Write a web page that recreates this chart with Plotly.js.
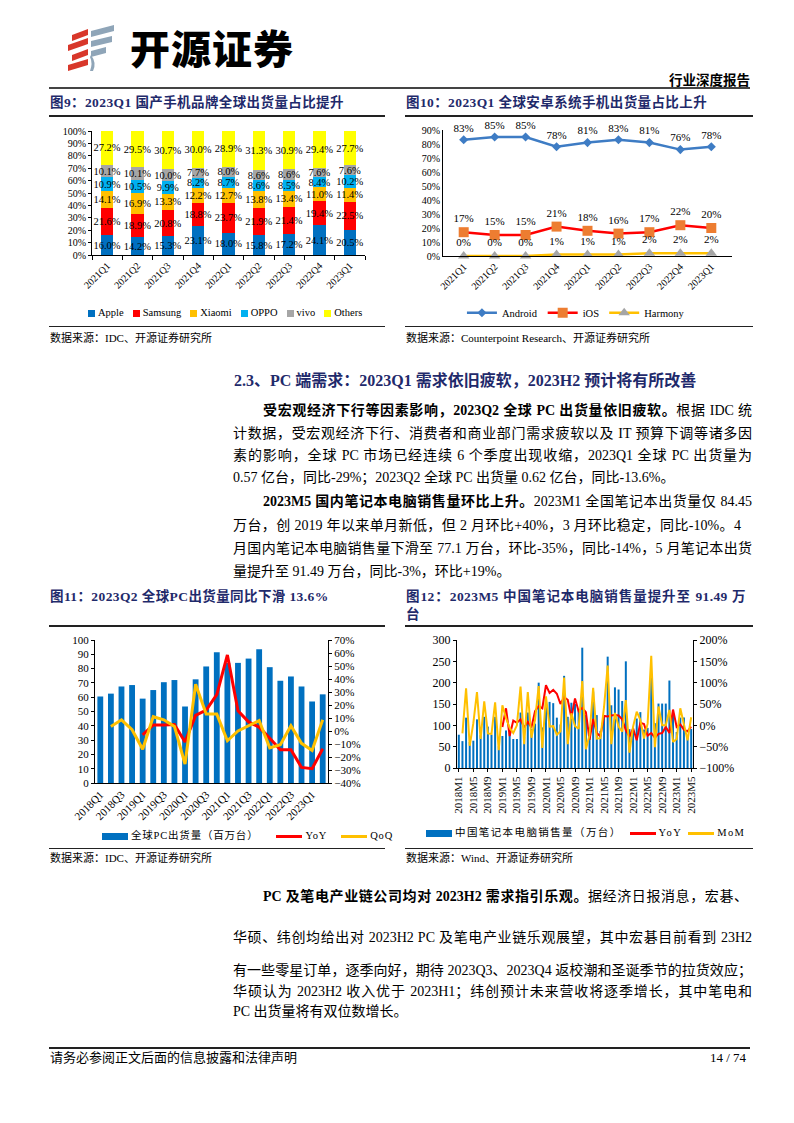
<!DOCTYPE html>
<html>
<head>
<meta charset="utf-8">
<script src="https://cdn.plot.ly/plotly-3.0.1.min.js"></script>
<style>
  body { margin: 0; background: #fff; }
  #page { position: relative; width: 794px; height: 1123px; overflow: hidden;
          font-family: "Liberation Serif", "Noto Sans CJK SC", serif; color: #000; }
  .abs { position: absolute; white-space: nowrap; }
  .rule { position: absolute; background: #222; }
  .fig { font-weight: bold; font-size: 13.5px; color: #1F2A6B; line-height: 18px; letter-spacing: 0.4px; }
  .src { font-size: 11px; line-height: 14px; }
  .ln { position: absolute; left: 233px; width: 519px; font-size: 14px; line-height: 16px;
        text-align: justify; text-align-last: justify; white-space: nowrap; }
  .ln.last { text-align-last: left; }
  .ln.ind { padding-left: 30px; width: 489px; }
  b { font-weight: bold; }
  .chart { position: absolute; }
  .legend { position: absolute; display: flex; align-items: center; font-size: 10.5px; line-height: 12px; white-space: nowrap; }
  .legend .it { display: flex; align-items: center; }
  .legend .sw { display: inline-block; }
</style>
</head>
<body>
<div id="page">
  <!-- header -->
  <svg class="abs" style="left:66px;top:25px" width="52" height="47" viewBox="0 0 52 47">
    <g fill="#D8372A">
      <polygon points="6,10 22,4 22,10 6,16"/>
      <polygon points="2,20 22,13 22,19 2,26"/>
      <polygon points="6,30 22,24 22,30 6,36"/>
      <polygon points="2,40 22,34 22,40 2,46"/>
    </g>
    <g fill="#8FA5B8">
      <polygon points="25,6 48,0 48,6 25,12"/>
      <polygon points="25,16 46,11 46,17 25,22"/>
      <polygon points="25,26 40,22 40,28 25,32"/>
      <path d="M25,30 Q31,38 27,46 L24,46 Q27,38 24,32 Z"/>
    </g>
  </svg>
  <div class="abs" style="left:130px;top:22px;font-family:'Noto Sans CJK SC';font-weight:900;font-size:40px;line-height:50px;letter-spacing:1px;">开源证券</div>
  <div class="abs" style="right:44px;top:73px;font-weight:bold;font-size:13.5px;line-height:16px;">行业深度报告</div>
  <div class="rule" style="left:49px;top:87px;width:701px;height:2px;background:#444"></div>

  <!-- figure titles row 1 -->
  <div class="abs fig" style="left:50px;top:94px;">图9：2023Q1 国产手机品牌全球出货量占比提升</div>
  <div class="abs fig" style="left:406px;top:94px;">图10：2023Q1 全球安卓系统手机出货量占比上升</div>
  <div class="rule" style="left:49px;top:115px;width:336px;height:1.5px"></div>
  <div class="rule" style="left:405px;top:115px;width:348px;height:1.5px"></div>

  <div id="c1" class="chart" style="left:50px;top:118px;width:335px;height:208px"></div>
  <div id="c2" class="chart" style="left:405px;top:118px;width:350px;height:208px"></div>
  <div id="lg1" class="legend" style="left:88px;top:307px;gap:9px"></div>

  <div class="rule" style="left:49px;top:326px;width:336px;height:1px"></div>
  <div class="rule" style="left:405px;top:326px;width:348px;height:1px"></div>
  <div class="abs src" style="left:50px;top:331px;">数据来源：IDC、开源证券研究所</div>
  <div class="abs src" style="left:406px;top:331px;">数据来源：Counterpoint Research、开源证券研究所</div>

  <!-- section text -->
  <div class="abs" style="left:234px;top:371px;font-weight:bold;font-size:16px;line-height:20px;color:#1F2A6B;">2.3、PC 端需求：2023Q1 需求依旧疲软，2023H2 预计将有所改善</div>

  <div class="ln ind" style="top:403px"><b>受宏观经济下行等因素影响，2023Q2 全球 PC 出货量依旧疲软。</b>根据 IDC 统</div>
  <div class="ln" style="top:426px">计数据，受宏观经济下行、消费者和商业部门需求疲软以及 IT 预算下调等诸多因</div>
  <div class="ln" style="top:448px">素的影响，全球 PC 市场已经连续 6 个季度出现收缩，2023Q1 全球 PC 出货量为</div>
  <div class="ln last" style="top:470px">0.57 亿台，同比-29%；2023Q2 全球 PC 出货量 0.62 亿台，同比-13.6%。</div>

  <div class="ln ind" style="top:494px"><b>2023M5 国内笔记本电脑销售量环比上升。</b>2023M1 全国笔记本出货量仅 84.45</div>
  <div class="ln" style="top:518px;width:508px">万台，创 2019 年以来单月新低，但 2 月环比+40%，3 月环比稳定，同比-10%。4</div>
  <div class="ln" style="top:541px">月国内笔记本电脑销售量下滑至 77.1 万台，环比-35%，同比-14%，5 月笔记本出货</div>
  <div class="ln last" style="top:564px">量提升至 91.49 万台，同比-3%，环比+19%。</div>

  <!-- figure titles row 2 -->
  <div class="abs fig" style="left:50px;top:588px;">图11：2023Q2 全球PC出货量同比下滑 13.6%</div>
  <div class="abs fig" style="left:406px;top:588px;width:340px;text-align:justify;text-align-last:justify;">图12：2023M5 中国笔记本电脑销售量提升至 91.49 万</div>
  <div class="abs fig" style="left:406px;top:606px;">台</div>
  <div class="rule" style="left:49px;top:625px;width:336px;height:1.5px"></div>
  <div class="rule" style="left:405px;top:625px;width:348px;height:1.5px"></div>

  <div id="c3" class="chart" style="left:50px;top:628px;width:335px;height:220px"></div>
  <div id="c4" class="chart" style="left:405px;top:628px;width:350px;height:220px"></div>
  <div id="lg3" class="legend" style="left:102px;top:830px;"></div>
  <div id="lg4" class="legend" style="left:426px;top:827px;"></div>

  <div class="rule" style="left:49px;top:848px;width:336px;height:1px"></div>
  <div class="rule" style="left:405px;top:848px;width:348px;height:1px"></div>
  <div class="abs src" style="left:50px;top:851px;">数据来源：IDC、开源证券研究所</div>
  <div class="abs src" style="left:406px;top:851px;">数据来源：Wind、开源证券研究所</div>

  <div class="ln ind" style="top:889px;width:485px"><b>PC 及笔电产业链公司均对 2023H2 需求指引乐观。</b>据经济日报消息，宏碁、</div>
  <div class="ln" style="top:930px">华硕、纬创均给出对 2023H2 PC 及笔电产业链乐观展望，其中宏碁目前看到 23H2</div>
  <div class="ln" style="top:963px">有一些零星订单，逐季向好，期待 2023Q3、2023Q4 返校潮和圣诞季节的拉货效应；</div>
  <div class="ln" style="top:984px">华硕认为 2023H2 收入优于 2023H1；纬创预计未来营收将逐季增长，其中笔电和</div>
  <div class="ln last" style="top:1004px">PC 出货量将有双位数增长。</div>

  <!-- footer -->
  <div class="rule" style="left:49px;top:1047px;width:701px;height:1.5px"></div>
  <div class="abs" style="left:50px;top:1050px;font-size:13px;line-height:16px;">请务必参阅正文后面的信息披露和法律声明</div>
  <div class="abs" style="right:48px;top:1050px;font-size:13px;line-height:16px;">14 / 74</div>
</div>

<script>
// ---- 图9 data ----
var quarters = ['2021Q1', '2021Q2', '2021Q3', '2021Q4', '2022Q1', '2022Q2', '2022Q3', '2022Q4', '2023Q1'];
var apple   = [16.0, 14.2, 15.3, 23.1, 18.0, 15.8, 17.2, 24.1, 20.5];
var samsung = [21.6, 18.9, 20.8, 18.8, 23.7, 21.9, 21.4, 19.4, 22.5];
var xiaomi  = [14.1, 16.9, 13.3, 12.2, 12.7, 13.8, 13.4, 11.0, 11.4];
var oppo    = [10.9, 10.5, 9.9, 8.2, 8.7, 8.6, 8.5, 8.4, 10.2];
var vivo    = [10.1, 10.1, 10.0, 7.7, 8.0, 8.6, 8.6, 7.6, 7.6];
var others  = [27.2, 29.5, 30.7, 30.0, 28.9, 31.3, 30.9, 29.4, 27.7];

// ---- 图10 data ----
var android = [83, 85, 85, 78, 81, 83, 81, 76, 78];
var ios     = [17, 15, 15, 21, 18, 16, 17, 22, 20];
var harmony = [0, 0, 0, 1, 1, 1, 2, 2, 2];

// ---- 图11 data ----
var pcQuarters = ['2018Q1', '2018Q2', '2018Q3', '2018Q4', '2019Q1', '2019Q2', '2019Q3', '2019Q4',
                  '2020Q1', '2020Q2', '2020Q3', '2020Q4', '2021Q1', '2021Q2', '2021Q3', '2021Q4',
                  '2022Q1', '2022Q2', '2022Q3', '2022Q4', '2023Q1', '2023Q2'];
var pcShip = [60.5, 62.5, 67.5, 68.5, 59, 65, 70.5, 72, 53.5, 72.5, 81.5, 91.5,
              84, 84, 87, 93.5, 81, 71.5, 74.5, 67.5, 57, 62];
var pcYoY = [null, null, null, null, -3, 4.7, 4.7, 5, -8.5, 12, 16, 28,
             58.5, 15.5, 7, 3, -5.5, -14.5, -14.5, -28, -29, -13.6];
var pcQoQ = [null, 3.5, 8.6, 1, -14, 11, 8.6, 3.5, -25.5, 36, 13, 13,
             -7.5, 0, 4, 8, -13, -10.5, 4, -9.5, -15, 8.6];

// ---- 图12 data ----
var months = ['2018M1','2018M2','2018M3','2018M4','2018M5','2018M6','2018M7','2018M8','2018M9','2018M10','2018M11','2018M12',
              '2019M1','2019M2','2019M3','2019M4','2019M5','2019M6','2019M7','2019M8','2019M9','2019M10','2019M11','2019M12',
              '2020M1','2020M2','2020M3','2020M4','2020M5','2020M6','2020M7','2020M8','2020M9','2020M10','2020M11','2020M12',
              '2021M1','2021M2','2021M3','2021M4','2021M5','2021M6','2021M7','2021M8','2021M9','2021M10','2021M11','2021M12',
              '2022M1','2022M2','2022M3','2022M4','2022M5','2022M6','2022M7','2022M8','2022M9','2022M10','2022M11','2022M12',
              '2023M1','2023M2','2023M3','2023M4','2023M5'];
var nbSales = [78, 63, 118, 61, 64, 114, 77, 120, 97, 78, 120, 51,
               75, 88, 83, 68, 68, 130, 73, 130, 92, 104, 200, 95,
               160, 155, 152, 118, 102, 216, 120, 153, 150, 138, 282, 124,
               95, 179, 124, 87, 124, 261, 147, 189, 184, 157, 250, 91,
               88, 116, 131, 90, 94, 215, 105, 151, 151, 151, 205, 125,
               84.45, 118.2, 118.4, 77.1, 91.49];
var nbYoY = [null, null, null, null, null, null, null, null, null, null, null, null,
             -4, 40, -25, 11, 6, 14, -5, 8, -5, 33, 45, 40,
             94, 76, 83, 74, 50, 66, 60, 18, 63, 33, 41, 31,
             -34, 15, -18, -26, 22, 21, 23, 24, 23, 14, -11, -27,
             -7, -35, 6, 3, -24, -18, -29, -20, -18, -4, -18, 37,
             -4, 2, -10, -14, -3];
var nbMoM = [null, -19, 87, -48, 5, 78, -32, 56, -19, -20, 54, -58,
             47, 17, -6, -18, 0, 91, -44, 78, -29, 13, 92, -53,
             68, -3, -2, -22, -14, 112, -44, 28, -2, -8, 104, -56,
             -23, 88, -31, -30, 43, 140, -44, 29, -3, -15, 59, -64,
             -3, 32, 13, -31, 4, 163, -51, 44, 0, 0, 36, -39,
             -32, 40, 0, -35, 19];

var FONT = 'Liberation Serif, Noto Sans CJK SC, serif';
var config = { staticPlot: true, displayModeBar: false };

function baseAxis(extra) {
    var ax = { showgrid: false, zeroline: false, showline: true, linecolor: '#000', linewidth: 1,
               ticks: 'outside', ticklen: 3, tickcolor: '#000', tickfont: { family: FONT, size: 10, color: '#000' } };
    for (var k in extra) ax[k] = extra[k];
    return ax;
}

// simple html legend: kind 'box' or 'line'
function drawLegend(id, items, opts) {
    var box = document.getElementById(id);
    items.forEach(function (it, i) {
        var el = document.createElement('span');
        el.className = 'it';
        if (opts.gaps) el.style.marginLeft = (i === 0 ? 0 : opts.gaps[i - 1]) + 'px';
        var sw = document.createElement('span');
        sw.className = 'sw';
        sw.style.background = it.color;
        sw.style.width = (it.kind === 'line' ? opts.lineW : opts.boxW) + 'px';
        sw.style.height = (it.kind === 'line' ? 3 : opts.boxH) + 'px';
        sw.style.marginRight = '3px';
        var tx = document.createElement('span');
        tx.textContent = it.name;
        if (opts.spacing) tx.style.letterSpacing = opts.spacing + 'px';
        el.appendChild(sw); el.appendChild(tx);
        box.appendChild(el);
    });
}

// 图9: stacked bars
var brands = [
    { name: 'Apple', y: apple, color: '#0070C0' },
    { name: 'Samsung', y: samsung, color: '#FF0000' },
    { name: 'Xiaomi', y: xiaomi, color: '#FFC000' },
    { name: 'OPPO', y: oppo, color: '#00B0F0' },
    { name: 'vivo', y: vivo, color: '#A6A6A6' },
    { name: 'Others', y: others, color: '#FFFF00' }
];
var c1Traces = brands.map(function (b) {
    return {
        type: 'bar', x: quarters, y: b.y, name: b.name,
        marker: { color: b.color },
        text: b.y.map(function (v) { return v.toFixed(1) + '%'; }),
        textposition: 'inside', insidetextanchor: 'middle', constraintext: 'none', textangle: 0,
        textfont: { family: FONT, size: 10.5, color: '#000' }
    };
});
Plotly.newPlot('c1', c1Traces, {
    barmode: 'stack', bargap: 0.6, showlegend: false,
    margin: { l: 42, r: 20, t: 13, b: 71, autoexpand: false },
    paper_bgcolor: '#fff', plot_bgcolor: '#fff',
    font: { family: FONT, size: 10, color: '#000' },
    xaxis: baseAxis({ type: 'category', tickangle: -45, tickson: 'boundaries', ticklen: 4 }),
    yaxis: baseAxis({ range: [0, 100], dtick: 10, ticksuffix: '%' })
}, config);
drawLegend('lg1', brands.map(function (b) { return { name: b.name, color: b.color, kind: 'box' }; }),
           { boxW: 7, boxH: 7, lineW: 20 });

// 图10: OS share lines
function pctText(arr) { return arr.map(function (v) { return v + '%'; }); }
Plotly.newPlot('c2', [
    { type: 'scatter', mode: 'lines+markers+text', x: quarters, y: android, name: 'Android',
      line: { color: '#3E7CC4', width: 2.5 }, marker: { symbol: 'diamond', size: 7, color: '#3E7CC4' },
      text: pctText(android), textposition: 'top center', cliponaxis: false,
      textfont: { family: FONT, size: 11, color: '#000' } },
    { type: 'scatter', mode: 'lines+markers+text', x: quarters, y: ios, name: 'iOS',
      line: { color: '#FF0000', width: 2.5 }, marker: { symbol: 'square', size: 10, color: '#ED7D31' },
      text: pctText(ios), textposition: 'top center', cliponaxis: false,
      textfont: { family: FONT, size: 11, color: '#000' } },
    { type: 'scatter', mode: 'lines+markers+text', x: quarters, y: harmony, name: 'Harmony',
      line: { color: '#FFC000', width: 2.5 }, marker: { symbol: 'triangle-up', size: 10, color: '#A5A5A5' },
      text: pctText(harmony), textposition: 'top center', cliponaxis: false,
      textfont: { family: FONT, size: 11, color: '#000' } }
], {
    margin: { l: 38, r: 23, t: 12, b: 70, autoexpand: false },
    paper_bgcolor: '#fff', plot_bgcolor: '#fff',
    font: { family: FONT, size: 10, color: '#000' },
    xaxis: baseAxis({ type: 'category', tickangle: -45, ticks: '' }),
    yaxis: baseAxis({ range: [0, 90], dtick: 10, ticksuffix: '%', ticks: '' }),
    showlegend: true,
    legend: { orientation: 'h', x: 0.46, xanchor: 'center', y: -0.45, yanchor: 'middle',
              font: { family: FONT, size: 10.5 }, bgcolor: 'rgba(0,0,0,0)' }
}, config);

// 图11: PC shipments with YoY / QoQ
var pcTicks = pcQuarters.filter(function (q, i) { return i % 2 === 0; });
Plotly.newPlot('c3', [
    { type: 'bar', x: pcQuarters, y: pcShip, name: '全球PC出货量（百万台）', marker: { color: '#0070C0' } },
    { type: 'scatter', mode: 'lines', x: pcQuarters, y: pcYoY, name: 'YoY', yaxis: 'y2',
      line: { color: '#FF0000', width: 3 } },
    { type: 'scatter', mode: 'lines', x: pcQuarters, y: pcQoQ, name: 'QoQ', yaxis: 'y2',
      line: { color: '#FFC000', width: 3 } }
], {
    bargap: 0.45, showlegend: false,
    margin: { l: 45, r: 57, t: 12, b: 65, autoexpand: false },
    paper_bgcolor: '#fff', plot_bgcolor: '#fff',
    font: { family: FONT, size: 11, color: '#000' },
    xaxis: baseAxis({ type: 'category', tickangle: -45, tickvals: pcTicks, ticks: '', tickfont: { family: FONT, size: 11 } }),
    yaxis: baseAxis({ range: [0, 100], dtick: 10, tickfont: { family: FONT, size: 11 } }),
    yaxis2: baseAxis({ range: [-40, 70], dtick: 10, ticksuffix: '%', overlaying: 'y', side: 'right',
                       tickfont: { family: FONT, size: 11 } })
}, config);
drawLegend('lg3', [
    { name: '全球PC出货量（百万台）', color: '#0070C0', kind: 'box' },
    { name: 'YoY', color: '#FF0000', kind: 'line' },
    { name: 'QoQ', color: '#FFC000', kind: 'line' }
], { boxW: 26, boxH: 7, lineW: 26, gaps: [18, 14], spacing: 0.8 });

// 图12: notebook sales monthly
var nbTicks = months.filter(function (m, i) { return i % 4 === 0; });
Plotly.newPlot('c4', [
    { type: 'bar', x: months, y: nbSales, name: '中国笔记本电脑销售量（万台）', marker: { color: '#0070C0' } },
    { type: 'scatter', mode: 'lines', x: months, y: nbYoY, name: 'YoY', yaxis: 'y2',
      line: { color: '#FF0000', width: 2 } },
    { type: 'scatter', mode: 'lines', x: months, y: nbMoM, name: 'MoM', yaxis: 'y2',
      line: { color: '#FFC000', width: 2 } }
], {
    bargap: 0.45, showlegend: false,
    margin: { l: 52, r: 62, t: 12, b: 80, autoexpand: false },
    paper_bgcolor: '#fff', plot_bgcolor: '#fff',
    font: { family: FONT, size: 11, color: '#000' },
    xaxis: baseAxis({ type: 'category', tickangle: -90, tickvals: nbTicks, tickfont: { family: FONT, size: 11 } }),
    yaxis: baseAxis({ range: [0, 300], dtick: 50, tickfont: { family: FONT, size: 12 } }),
    yaxis2: baseAxis({ range: [-100, 200], dtick: 50, ticksuffix: '%', overlaying: 'y', side: 'right',
                       tickfont: { family: FONT, size: 12 } })
}, config);
drawLegend('lg4', [
    { name: '中国笔记本电脑销售量（万台）', color: '#0070C0', kind: 'box' },
    { name: 'YoY', color: '#FF0000', kind: 'line' },
    { name: 'MoM', color: '#FFC000', kind: 'line' }
], { boxW: 26, boxH: 7, lineW: 26, gaps: [8, 6], spacing: 1.4 });
</script>
</body>
</html>
